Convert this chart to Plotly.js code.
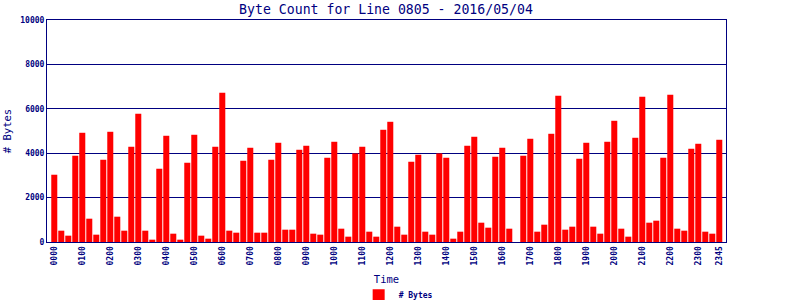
<!DOCTYPE html>
<html>
<head>
<meta charset="utf-8">
<script src="https://cdn.plot.ly/plotly-3.0.1.min.js"></script>
<style>html,body{margin:0;padding:0;background:#fff;}#chart{width:800px;height:300px;}</style>
</head>
<body>
<div id="chart"></div>
<script>
// 15-minute time slots
var times = [
 "0000","0015","0030","0045","0100","0115","0130","0145","0200","0215","0230","0245",
 "0300","0315","0330","0345","0400","0415","0430","0445","0500","0515","0530","0545",
 "0600","0615","0630","0645","0700","0715","0730","0745","0800","0815","0830","0845",
 "0900","0915","0930","0945","1000","1015","1030","1045","1100","1115","1130","1145",
 "1200","1215","1230","1245","1300","1315","1330","1345","1400","1415","1430","1445",
 "1500","1515","1530","1545","1600","1615","1630","1645","1700","1715","1730","1745",
 "1800","1815","1830","1845","1900","1915","1930","1945","2000","2015","2030","2045",
 "2100","2115","2130","2145","2200","2215","2230","2245","2300","2315","2330","2345"
];
var bytes = [
 3030, 510, 285, 3885, 4920, 1050, 330, 3705, 4965, 1140, 510, 4290,
 5775, 510, 105, 3300, 4785, 375, 105, 3570, 4830, 285, 150, 4290,
 6720, 510, 420, 3660, 4245, 420, 420, 3705, 4470, 555, 555, 4155,
 4335, 375, 330, 3795, 4515, 600, 240, 3990, 4290, 465, 240, 5055,
 5415, 690, 330, 3615, 3930, 465, 330, 3990, 3795, 150, 465, 4335,
 4740, 870, 645, 3840, 4245, 600, 0, 3885, 4650, 465, 780, 4875,
 6585, 555, 690, 3750, 4470, 690, 375, 4515, 5460, 600, 240, 4695,
 6540, 870, 960, 3795, 6630, 600, 510, 4200, 4425, 465, 375, 4605
];
var tickLabels = ["0000","0100","0200","0300","0400","0500","0600","0700","0800","0900",
 "1000","1100","1200","1300","1400","1500","1600","1700","1800","1900","2000","2100",
 "2200","2300","2345"];
var yTicks = [0, 2000, 4000, 6000, 8000, 10000];
var seriesName = "# Bytes";

var navy = "#000080";
var mono = "DejaVu Sans Mono, monospace";

var trace = {
  type: "bar",
  x: times,
  y: bytes,
  name: seriesName,
  marker: {color: "#FF0000"},
  showlegend: true
};

var layout = {
  width: 800, height: 300,
  margin: {l: 47, r: 74, t: 20, b: 58, pad: 0, autoexpand: false},
  paper_bgcolor: "#FFFFFF",
  plot_bgcolor: "#FFFFFF",
  bargap: 0.14,
  showlegend: true,
  title: {
    text: "Byte Count for Line 0805 - 2016/05/04",
    font: {family: mono, size: 13.2, color: navy},
    x: 0.4825, xanchor: "center", y: 0.97, yanchor: "middle"
  },
  xaxis: {
    type: "category",
    automargin: false,
    range: [-1.04, 95.96],
    tickmode: "array",
    tickvals: tickLabels,
    ticktext: tickLabels,
    tickangle: -90,
    ticks: "",
    tickfont: {family: mono, size: 8, color: navy, weight: "bold"},
    showgrid: false,
    showline: true, linecolor: navy, linewidth: 1, mirror: true,
    zeroline: false,
    title: {text: "Time", font: {family: mono, size: 10.5, color: navy}, standoff: 11}
  },
  yaxis: {
    automargin: false,
    range: [0, 10000],
    tickmode: "array",
    tickvals: yTicks,
    ticktext: yTicks.map(String),
    ticks: "",
    tickfont: {family: mono, size: 8, color: navy, weight: "bold"},
    showgrid: true, gridcolor: navy, gridwidth: 1,
    showline: true, linecolor: navy, linewidth: 1, mirror: true,
    zeroline: false,
    title: {text: "# Bytes", font: {family: mono, size: 10.5, color: navy}, standoff: 6}
  },
  legend: {
    orientation: "h",
    x: 0.459, xanchor: "left",
    y: -0.305, yanchor: "bottom",
    font: {family: mono, size: 8, color: navy, weight: "bold"},
    bgcolor: "rgba(0,0,0,0)",
    itemwidth: 30
  }
};

Plotly.newPlot("chart", [trace], layout, {displayModeBar: false, staticPlot: true});
</script>
</body>
</html>
